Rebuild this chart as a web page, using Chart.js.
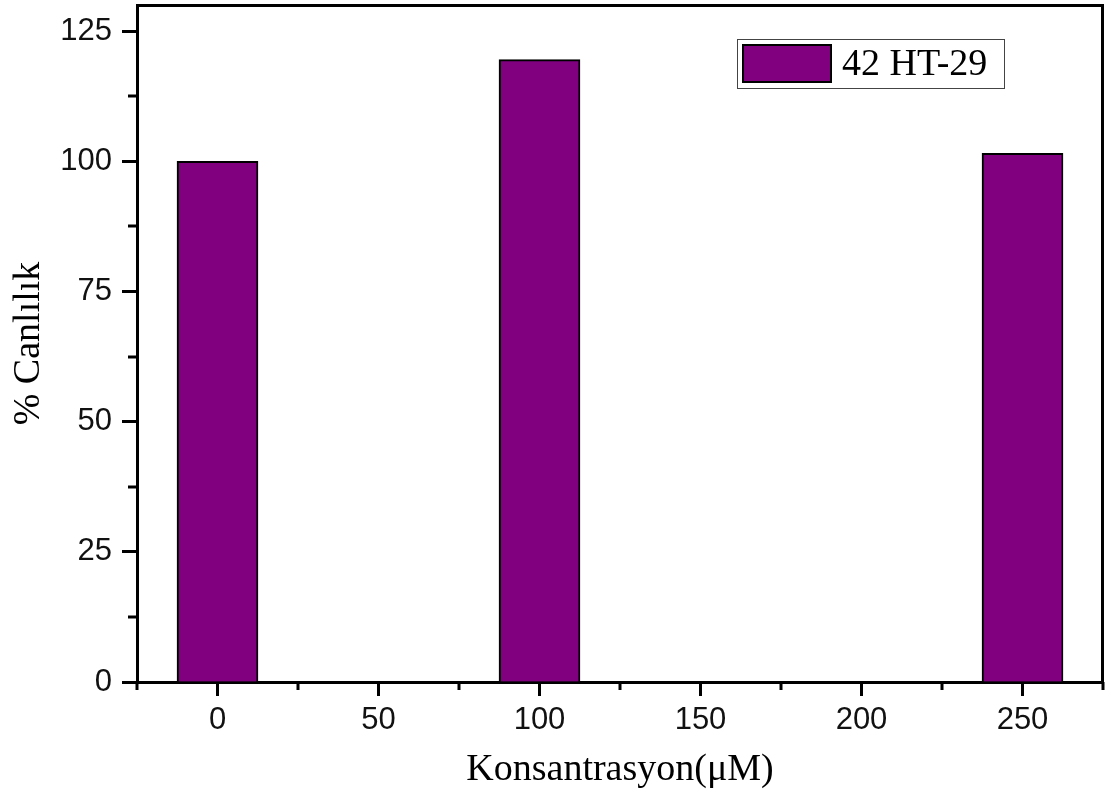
<!DOCTYPE html>
<html>
<head>
<meta charset="utf-8">
<title>% Canlılık - 42 HT-29</title>
<script src="https://cdn.jsdelivr.net/npm/chart.js@4.4.1/dist/chart.umd.min.js"></script>
<style>
  html, body { margin: 0; padding: 0; background: #fff; }
  #wrap { width: 1111px; height: 801px; }
</style>
</head>
<body>
<div id="wrap"><canvas id="myChart" width="1111" height="801"></canvas></div>
<script>
// konsantrasyon (µM) ve % canlılık değerleri
var concentrations = [0, 100, 250];
var viability = [100, 119.5, 101.5];
var seriesName = '42 HT-29';

// eksen sınırları ve tikler
var xMin = -25, xMax = 275;
var yMin = 0, yMax = 130;
var xMajorTicks = [0, 50, 100, 150, 200, 250];
var yMajorTicks = [0, 25, 50, 75, 100, 125];
var xMinorTicks = [-25, 25, 75, 125, 175, 225, 275];
var yMinorTicks = [12.5, 37.5, 62.5, 87.5, 112.5];

var barColor = '#800080';

var points = concentrations.map(function(c, i){
    return { x: c, y: viability[i] };
});

// çerçeve, ara tikler ve kutulu açıklama
var framePlugin = {
    id: 'frame',
    afterDraw: function(chart){
        var ctx = chart.ctx;
        var a = chart.chartArea;
        var xs = chart.scales.x, ys = chart.scales.y;
        ctx.save();
        ctx.strokeStyle = '#000';
        ctx.lineWidth = 3;
        ctx.beginPath();
        ctx.moveTo(a.left, a.top + 0.5);
        ctx.lineTo(a.right - 0.5, a.top + 0.5);
        ctx.lineTo(a.right - 0.5, a.bottom);
        ctx.stroke();

        // ara tikler
        ctx.beginPath();
        xMinorTicks.forEach(function(v){
            var px = Math.round(xs.getPixelForValue(v));
            ctx.moveTo(px, a.bottom);
            ctx.lineTo(px, a.bottom + 8);
        });
        yMinorTicks.forEach(function(v){
            var py = Math.round(ys.getPixelForValue(v));
            ctx.moveTo(a.left, py);
            ctx.lineTo(a.left - 9, py);
        });
        ctx.stroke();

        // açıklama kutusu
        var ds = chart.data.datasets[0];
        var bx = a.right - 366, by = a.top + 34, bw = 267, bh = 49;
        ctx.lineWidth = 1;
        ctx.strokeStyle = '#444';
        ctx.strokeRect(bx + 0.5, by + 0.5, bw, bh);
        ctx.fillStyle = ds.backgroundColor;
        ctx.fillRect(bx + 6, by + 6, 88, 37);
        ctx.lineWidth = 2;
        ctx.strokeStyle = '#000';
        ctx.strokeRect(bx + 6, by + 6, 88, 37);
        ctx.fillStyle = '#000';
        ctx.font = '38px "Liberation Serif", "Times New Roman", serif';
        ctx.textBaseline = 'middle';
        ctx.textAlign = 'left';
        ctx.fillText(ds.label, bx + 105, by + bh / 2 + 2);
        ctx.restore();
    }
};

var tickFont = { family: '"Liberation Sans", Arial, sans-serif', size: 31 };
var titleFont = { family: '"Liberation Serif", "Times New Roman", serif', size: 38 };

function setTicks(values){
    return function(scale){
        scale.ticks = values.map(function(v){ return { value: v }; });
    };
}

var chartData = {
    type: 'bar',
    data: {
        datasets: [{
            label: seriesName,
            data: points,
            backgroundColor: barColor,
            borderColor: '#000',
            borderWidth: 2,
            barThickness: 81
        }]
    },
    options: {
        responsive: false,
        animation: false,
        layout: { padding: { top: 5, right: 8, left: 0, bottom: 0 } },
        plugins: {
            legend: { display: false },
            tooltip: { enabled: false }
        },
        scales: {
            x: {
                type: 'linear',
                min: xMin,
                max: xMax,
                offset: false,
                afterBuildTicks: setTicks(xMajorTicks),
                afterFit: function(scale){
                    scale.height = 119;
                    scale.paddingLeft = 0;
                    scale.paddingRight = 0;
                },
                ticks: {
                    font: tickFont,
                    color: '#111',
                    padding: 6,
                    autoSkip: false,
                    maxRotation: 0
                },
                grid: {
                    offset: false,
                    drawOnChartArea: false,
                    drawTicks: true,
                    tickLength: 14,
                    tickWidth: 3,
                    tickColor: '#000'
                },
                border: { display: true, color: '#000', width: 3 },
                title: {
                    display: true,
                    text: 'Konsantrasyon(μM)',
                    font: titleFont,
                    color: '#000',
                    padding: { top: 0, bottom: 8 }
                }
            },
            y: {
                type: 'linear',
                min: yMin,
                max: yMax,
                afterBuildTicks: setTicks(yMajorTicks),
                afterFit: function(scale){
                    scale.width = 137;
                    scale.paddingTop = 0;
                    scale.paddingBottom = 0;
                },
                ticks: {
                    font: tickFont,
                    color: '#111',
                    padding: 10,
                    autoSkip: false
                },
                grid: {
                    drawOnChartArea: false,
                    drawTicks: true,
                    tickLength: 15,
                    tickWidth: 3,
                    tickColor: '#000'
                },
                border: { display: true, color: '#000', width: 3 },
                title: {
                    display: true,
                    text: '% Canlılık',
                    font: titleFont,
                    color: '#000',
                    padding: { top: 6, bottom: 0 }
                }
            }
        }
    },
    plugins: [framePlugin]
};

var chartArea = document.getElementById('myChart').getContext('2d');
var myChart = new Chart(chartArea, chartData);
</script>
</body>
</html>
